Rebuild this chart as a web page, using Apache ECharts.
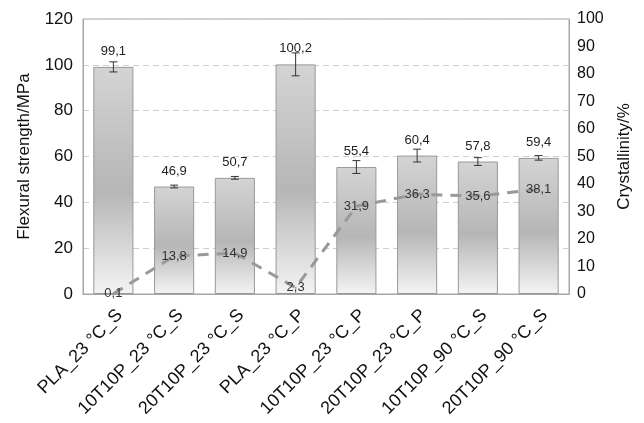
<!DOCTYPE html>
<html>
<head>
<meta charset="utf-8">
<script src="https://cdn.jsdelivr.net/npm/echarts@6/dist/echarts.min.js"></script>
<style>
  html, body { margin: 0; padding: 0; background: #fff; }
  #chart { width: 644px; height: 423px; }
</style>
</head>
<body>
<div id="chart"></div>
<script>
// Sample names along the x axis
const categories = ['PLA_23 °C_S', '10T10P_23 °C_S', '20T10P_23 °C_S', 'PLA_23 °C_P',
                    '10T10P_23 °C_P', '20T10P_23 °C_P', '10T10P_90 °C_S', '20T10P_90 °C_S'];
// Flexural strength (MPa) and its standard deviation
const strength = [99.1, 46.9, 50.7, 100.2, 55.4, 60.4, 57.8, 59.4];
const strengthErr = [2.2, 0.6, 0.6, 5.0, 2.8, 2.8, 1.7, 1.0];
// Crystallinity (%)
const crystallinity = [0.1, 13.8, 14.9, 2.3, 31.9, 36.3, 35.6, 38.1];
// Axis ticks
const leftTicks = { min: 0, max: 120, interval: 20 };
const rightTicks = { min: 0, max: 100, interval: 10 };

const font = 'Liberation Sans, Arial, Helvetica, sans-serif';
const comma = v => v.toFixed(1).replace('.', ',');

const chart = echarts.init(document.getElementById('chart'));

const errData = strength.map((v, i) => [i, v - strengthErr[i], v + strengthErr[i]]);

chart.setOption({
  animation: false,
  backgroundColor: '#fff',
  textStyle: { fontFamily: font },
  grid: {
    left: 83, right: 75, top: 19, bottom: 129,
    outerBoundsMode: 'none', containLabel: false,
    show: true, borderColor: '#a6a6a6', borderWidth: 1
  },
  xAxis: {
    type: 'category',
    data: categories,
    axisLine: { lineStyle: { color: '#a6a6a6' } },
    axisTick: { show: false },
    axisLabel: {
      rotate: 45, fontSize: 18, color: '#111', margin: 12, interval: 0, fontFamily: font,
      align: 'right', verticalAlign: 'top', padding: [0, 0, 0, 0]
    }
  },
  yAxis: [
    {
      type: 'value', min: leftTicks.min, max: leftTicks.max, interval: leftTicks.interval,
      name: 'Flexural strength/MPa', nameLocation: 'middle', nameRotate: 90, nameGap: 50,
      nameTextStyle: { fontSize: 17, color: '#111', fontFamily: font },
      axisLine: { show: true, lineStyle: { color: '#a6a6a6' } },
      axisTick: { show: false },
      axisLabel: { fontSize: 17, color: '#111', margin: 10, fontFamily: font },
      splitLine: { show: true, lineStyle: { color: '#d0d0d0', type: [6, 4], width: 1 } }
    },
    {
      type: 'value', min: rightTicks.min, max: rightTicks.max, interval: rightTicks.interval,
      position: 'right',
      name: 'Crystallinity/%', nameLocation: 'middle', nameRotate: 90, nameGap: 47,
      nameTextStyle: { fontSize: 17, color: '#111', fontFamily: font },
      axisLine: { show: true, lineStyle: { color: '#a6a6a6' } },
      axisTick: { show: false },
      axisLabel: { fontSize: 16, color: '#111', margin: 8, fontFamily: font },
      splitLine: { show: false }
    }
  ],
  series: [
    {
      type: 'bar',
      data: strength,
      barCategoryGap: '34%',
      itemStyle: {
        borderColor: '#999999', borderWidth: 1,
        color: new echarts.graphic.LinearGradient(0, 0, 0, 1, [
          { offset: 0, color: '#d4d4d4' },
          { offset: 0.55, color: '#b6b6b6' },
          { offset: 1, color: '#f4f4f4' }
        ])
      },
      label: {
        show: true, position: 'top', distance: 9, fontSize: 13, color: '#222',
        fontFamily: font, formatter: p => comma(p.value)
      },
      z: 2
    },
    {
      type: 'custom',
      data: errData,
      encode: { x: 0, y: [1, 2] },
      renderItem: (params, api) => {
        const x = api.value(0);
        const lo = api.coord([x, api.value(1)]);
        const hi = api.coord([x, api.value(2)]);
        const w = 4;
        const style = { stroke: '#333', lineWidth: 1 };
        return {
          type: 'group',
          children: [
            { type: 'line', shape: { x1: lo[0], y1: lo[1], x2: hi[0], y2: hi[1] }, style },
            { type: 'line', shape: { x1: lo[0] - w, y1: lo[1], x2: lo[0] + w, y2: lo[1] }, style },
            { type: 'line', shape: { x1: hi[0] - w, y1: hi[1], x2: hi[0] + w, y2: hi[1] }, style }
          ]
        };
      },
      z: 3
    },
    {
      type: 'line',
      yAxisIndex: 1,
      data: crystallinity,
      symbol: 'circle',
      symbolSize: 2,
      showSymbol: true,
      itemStyle: { color: '#999999' },
      lineStyle: { color: '#999999', width: 3, type: [11, 8] },
      label: {
        show: true, position: ['50%', '50%'], align: 'center', verticalAlign: 'middle',
        fontSize: 13, color: '#333', fontFamily: font, formatter: p => comma(p.value)
      },
      labelLayout: { hideOverlap: false },
      z: 4
    }
  ]
});
</script>
</body>
</html>
